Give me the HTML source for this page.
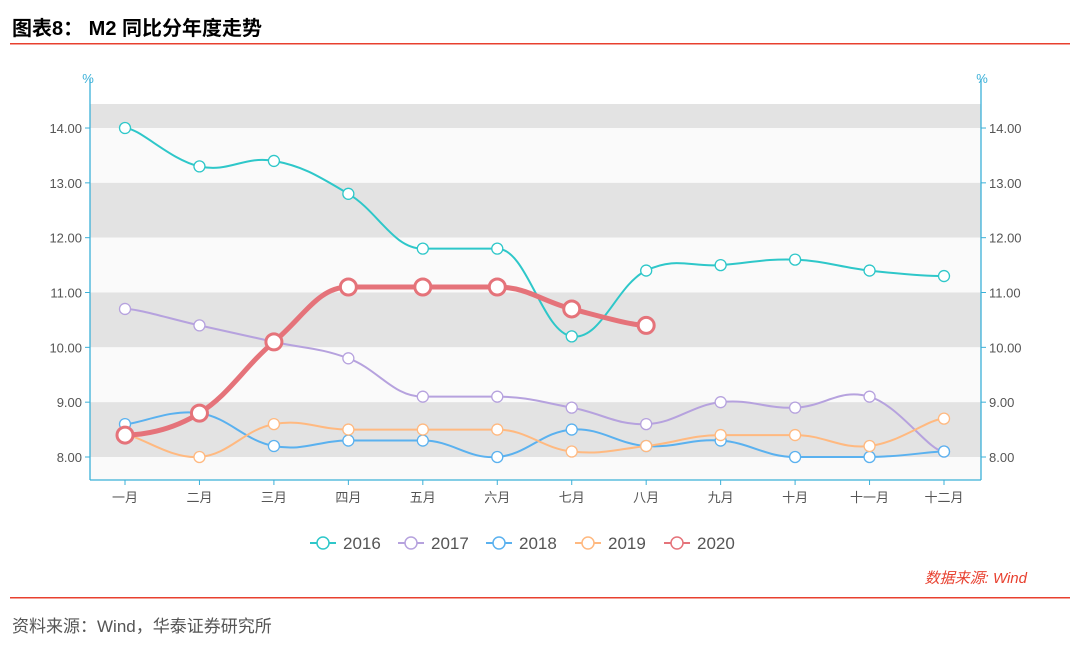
<!DOCTYPE html>
<html><head><meta charset="utf-8"><style>
body{margin:0;background:#fff;width:1080px;height:645px;overflow:hidden;font-family:"Liberation Sans","Noto Sans CJK SC",sans-serif}
</style></head><body>
<svg width="1080" height="645" xmlns="http://www.w3.org/2000/svg" id="chart">
<text x="12" y="35" font-size="20" font-weight="bold" fill="#000">图表8： M2 同比分年度走势</text>
<rect x="10" y="43" width="1060" height="1.5" fill="#e8402f"/>
<rect x="10" y="597" width="1060" height="1.5" fill="#e8402f"/>
<text x="12" y="632" font-size="17" fill="#555">资料来源：Wind，华泰证券研究所</text>
<text x="1027" y="583" font-size="15" font-style="italic" fill="#e8402f" text-anchor="end">数据来源: Wind</text>
<g id="plot"></g>
</svg>
<script>
const months=['一月','二月','三月','四月','五月','六月','七月','八月','九月','十月','十一月','十二月'];
const years=['2016','2017','2018','2019','2020'];
const colors=['#2ec7c9','#b6a2de','#5ab1ef','#ffb980','#e5737a'];
const s2016=[14.0,13.3,13.4,12.8,11.8,11.8,10.2,11.4,11.5,11.6,11.4,11.3];
const s2017=[10.7,10.4,10.1,9.8,9.1,9.1,8.9,8.6,9.0,8.9,9.1,8.1];
const s2018=[8.6,8.8,8.2,8.3,8.3,8.0,8.5,8.2,8.3,8.0,8.0,8.1];
const s2019=[8.4,8.0,8.6,8.5,8.5,8.5,8.1,8.2,8.4,8.4,8.2,8.7];
const s2020=[8.4,8.8,10.1,11.1,11.1,11.1,10.7,10.4];
const yTicks=[8,9,10,11,12,13,14];
const series=[s2016,s2017,s2018,s2019,s2020];
const NS='http://www.w3.org/2000/svg';
const g=document.getElementById('plot');
const X0=90,X1=981,YT=104,YB=480;
const x=i=>125+i*(944-125)/11;
const y=v=>457-(v-8)*54.83;
function mk(t,a,p){const e=document.createElementNS(NS,t);for(const k in a)e.setAttribute(k,a[k]);(p||g).appendChild(e);return e;}
const bandEdges=[YT,y(14),y(13),y(12),y(11),y(10),y(9),y(8),YB];
for(let i=0;i<bandEdges.length-1;i++){const r=mk('rect',{x:X0,y:bandEdges[i],width:X1-X0,height:bandEdges[i+1]-bandEdges[i],fill:i%2==0?'#e3e3e3':'#fafafa'});

}
mk('line',{x1:X0,y1:YT-25,x2:X0,y2:YB,stroke:'#3bb0d8','stroke-width':1.3});
mk('line',{x1:X1,y1:YT-25,x2:X1,y2:YB,stroke:'#3bb0d8','stroke-width':1.3});
mk('line',{x1:X0,y1:YB,x2:X1,y2:YB,stroke:'#3bb0d8','stroke-width':1.3});
const pl=mk('text',{x:88,y:83,'font-size':13,fill:'#3bb0d8','text-anchor':'middle'});pl.textContent='%';

const pr=mk('text',{x:982,y:83,'font-size':13,fill:'#3bb0d8','text-anchor':'middle'});pr.textContent='%';

yTicks.forEach(v=>{
 const a=mk('text',{x:X0-8,y:y(v)+5,'font-size':13,fill:'#555','text-anchor':'end'});a.textContent=v.toFixed(2);
 
 const b=mk('text',{x:X1+8,y:y(v)+5,'font-size':13,fill:'#555'});b.textContent=v.toFixed(2);
 
 mk('line',{x1:X0-5,y1:y(v),x2:X0,y2:y(v),stroke:'#3bb0d8'});mk('line',{x1:X1,y1:y(v),x2:X1+5,y2:y(v),stroke:'#3bb0d8'});
});
months.forEach((m,i)=>{
 const t=mk('text',{x:x(i),y:YB+22,'font-size':13,fill:'#555','text-anchor':'middle'});t.textContent=m;
 
 mk('line',{x1:x(i),y1:YB,x2:x(i),y2:YB+5,stroke:'#3bb0d8'});
});
function path(pts){let d='M'+pts[0][0]+','+pts[0][1];const k=0.2;
 for(let i=0;i<pts.length-1;i++){const p0=pts[i-1]||pts[i],p1=pts[i],p2=pts[i+1],p3=pts[i+2]||p2;
 let c1y=p1[1]+(p2[1]-p0[1])*k,c2y=p2[1]-(p3[1]-p1[1])*k;
 if(p1[1]==p2[1]){c1y=p1[1];c2y=p2[1];}
 if(p0[1]==p1[1])c1y=p1[1];
 if(p2[1]==p3[1])c2y=p2[1];
 d+=' C'+(p1[0]+(p2[0]-p0[0])*k)+','+c1y+' '+(p2[0]-(p3[0]-p1[0])*k)+','+c2y+' '+p2[0]+','+p2[1];}
 return d;}
series.forEach((s,si)=>{
 const big=si==4;const pts=s.map((v,i)=>[x(i),y(v)]);
 const p=mk('path',{d:path(pts),fill:'none',stroke:colors[si],'stroke-width':big?5:2});
 
 pts.forEach(q=>{const c=mk('circle',{cx:q[0],cy:q[1],r:big?8:5.5,fill:'#fff',stroke:colors[si],'stroke-width':big?3:1.3});
 });
});
const lx=[310,398,486,575,664];
years.forEach((yr,i)=>{
 const L=mk('g',{});
 mk('line',{x1:lx[i],y1:543,x2:lx[i]+26,y2:543,stroke:colors[i],'stroke-width':2},L);
 mk('circle',{cx:lx[i]+13,cy:543,r:6,fill:'#fff',stroke:colors[i],'stroke-width':1.5},L);
 const t=mk('text',{x:lx[i]+33,y:549,'font-size':17,fill:'#555'},L);t.textContent=yr;
});
</script>
</body></html>
